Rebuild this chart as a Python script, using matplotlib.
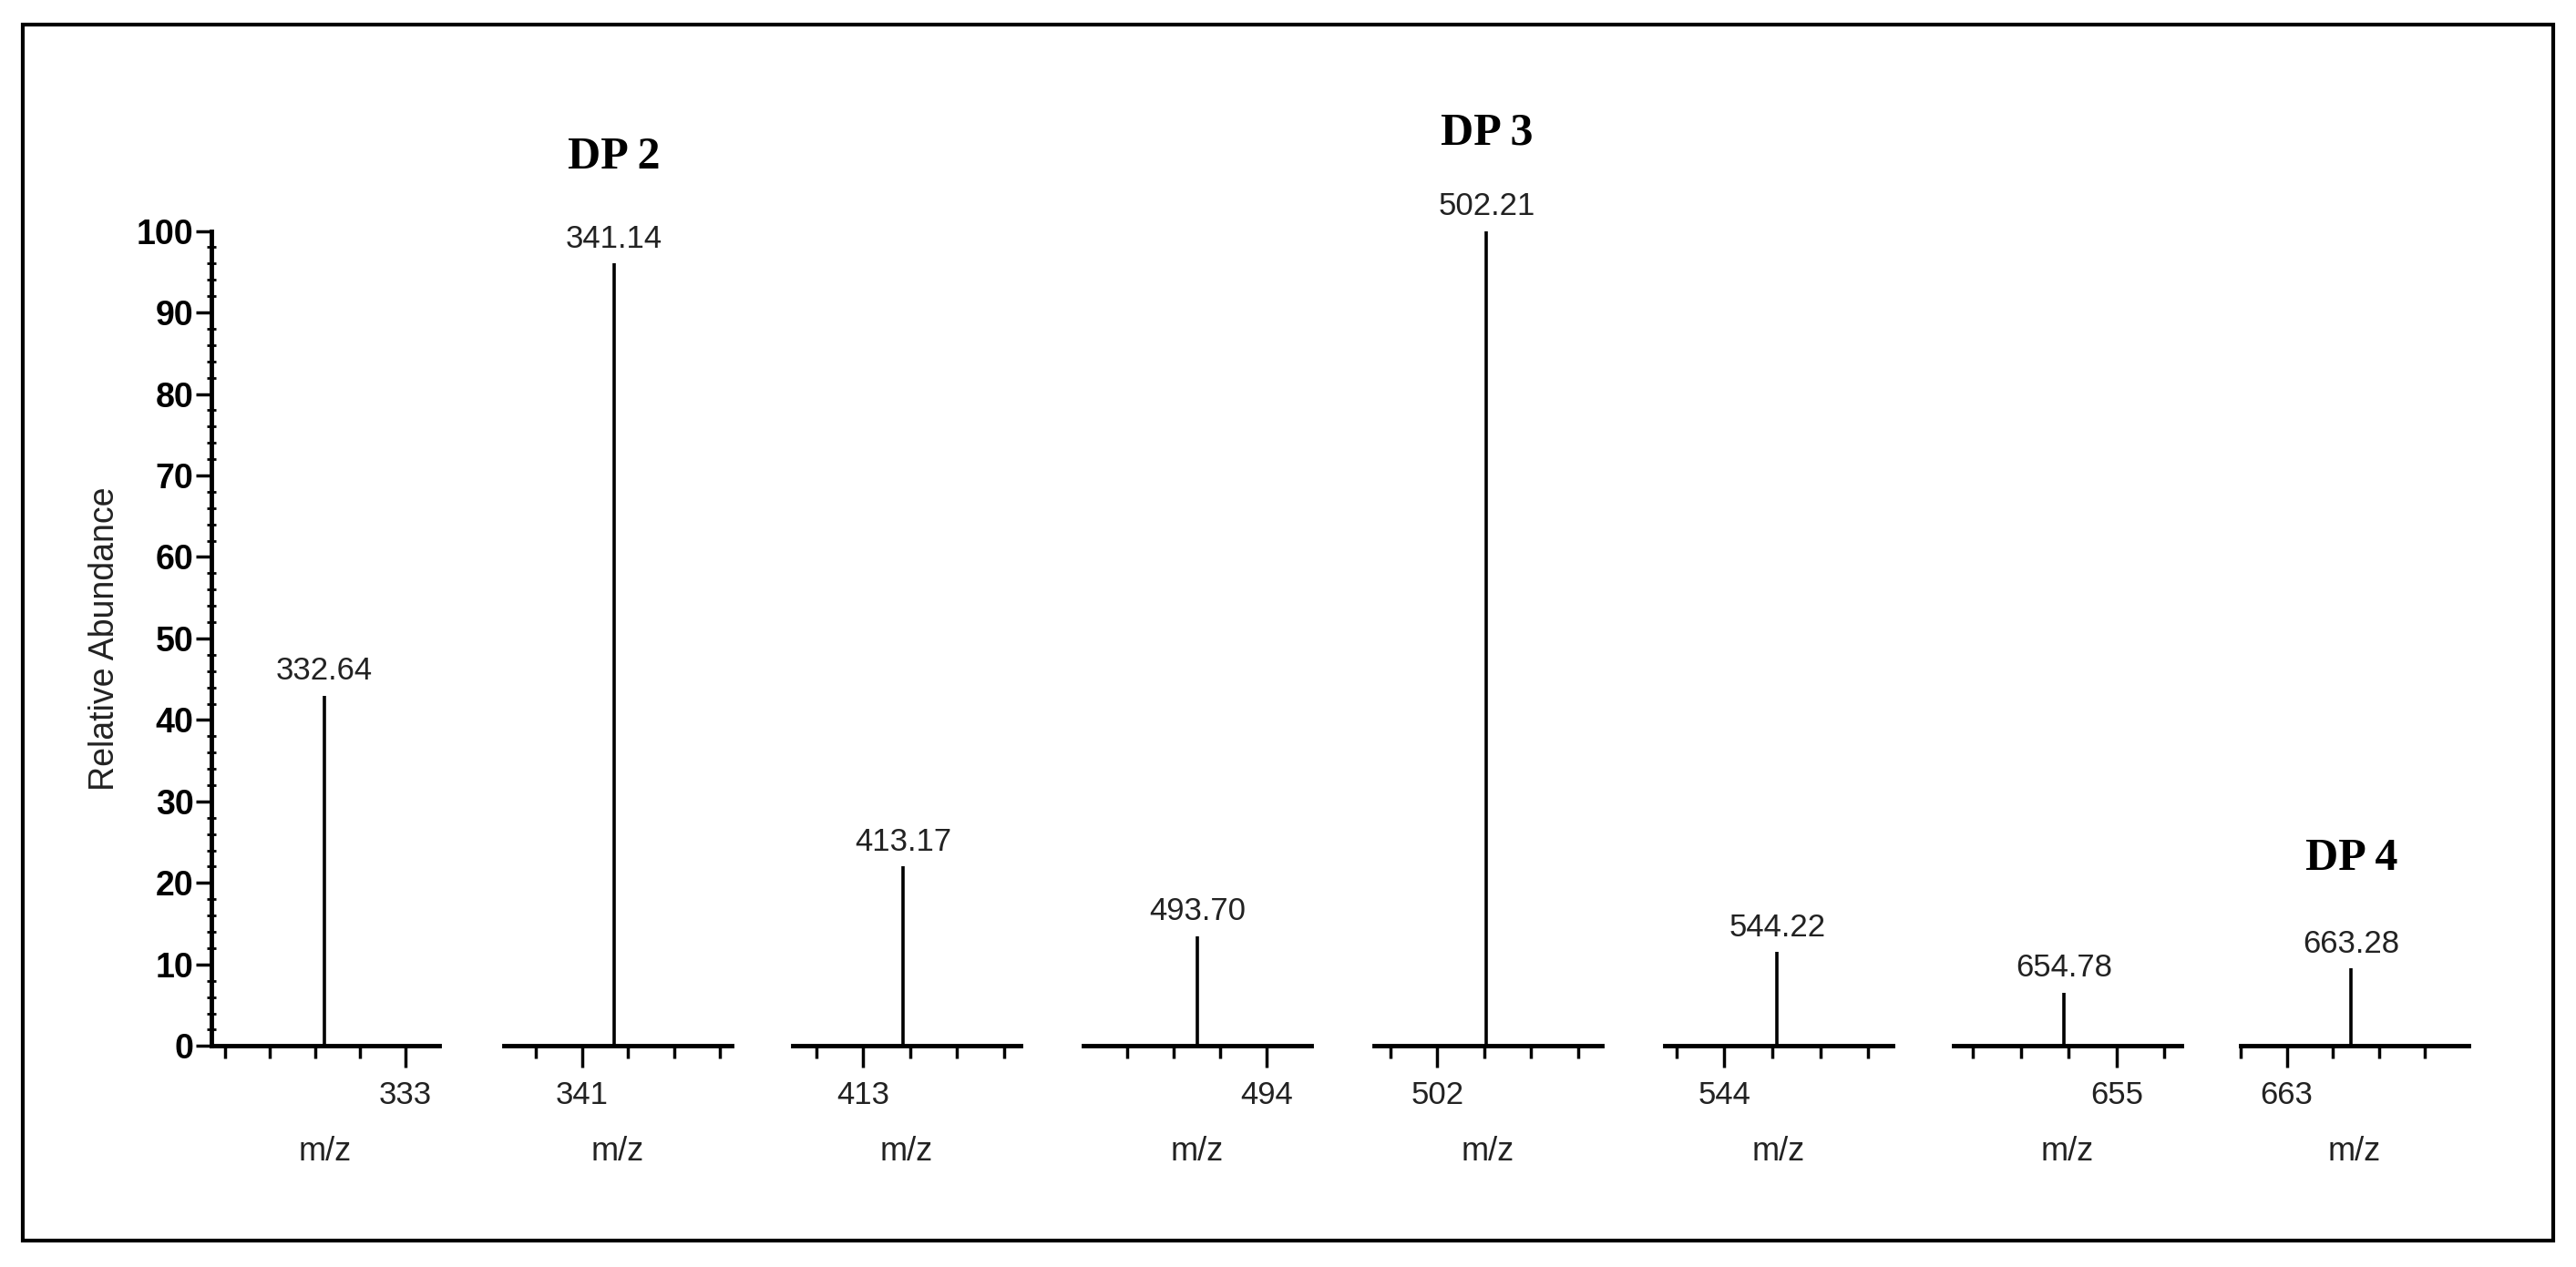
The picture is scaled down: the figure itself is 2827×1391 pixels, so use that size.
import matplotlib.pyplot as plt
from matplotlib.ticker import MultipleLocator, FixedLocator
from matplotlib.patches import Rectangle

# === Dati ===
peaks_mz = [332.64, 341.14, 413.17, 493.70, 502.21, 544.22, 654.78, 663.28]
peaks_ab = [43, 96, 22, 13.5, 100, 11.5, 6.5, 9.5]
major_ticks = [333, 341, 413, 494, 502, 544, 655, 663]
xlims = [(332.14, 333.15), (340.66, 341.65), (412.70, 413.67), (493.21, 494.19),
         (501.73, 502.70), (543.75, 544.70), (654.32, 655.27), (662.80, 663.79)]
dp_labels = {1: ("DP 2", 109), 4: ("DP 3", 112), 7: ("DP 4", 23)}

W, H = 1560.0, 768.0
panel_left = [128, 305, 480, 656, 832, 1008, 1183, 1357]
panel_w = 138
y_top, y_bot = 140, 634

fig = plt.figure(figsize=(28.27, 13.91), dpi=100)
fig.patches.append(Rectangle((14 / W, 1 - 752 / H), 1532 / W, 737 / H, transform=fig.transFigure,
                             fill=False, lw=3, ec="black"))

sans = "Liberation Sans"
for i, (mz, ab) in enumerate(zip(peaks_mz, peaks_ab)):
    ax = fig.add_axes([panel_left[i] / W, 1 - y_bot / H, panel_w / W, (y_bot - y_top) / H])
    ax.set_xlim(*xlims[i])
    ax.set_ylim(0, 100)
    ax.vlines(mz, 0, ab, color="black", lw=2.6)
    ax.text(mz, ab + 1.2, f"{mz:.2f}", ha="center", va="bottom", fontsize=25, family=sans, color="#222222")
    for s in ["top", "right"]:
        ax.spines[s].set_visible(False)
    ax.spines["bottom"].set_linewidth(3.5)
    ax.xaxis.set_major_locator(FixedLocator([major_ticks[i]]))
    ax.xaxis.set_minor_locator(MultipleLocator(0.2))
    ax.xaxis.set_major_formatter(lambda v, p: f"{v:.0f}")
    ax.tick_params(axis="x", which="major", length=17, width=2.5, labelsize=25, pad=10, labelcolor="#222222")
    ax.tick_params(axis="x", which="minor", length=10, width=2.5)
    for lab in ax.get_xticklabels():
        lab.set_family(sans)
    ax.set_xlabel("m/z", fontsize=26, family=sans, labelpad=20, color="#222222")
    if i == 0:
        ax.spines["left"].set_linewidth(3.5)
        ax.yaxis.set_major_locator(MultipleLocator(10))
        ax.yaxis.set_minor_locator(MultipleLocator(2))
        ax.tick_params(axis="y", which="major", length=12, width=2.5, labelsize=27, pad=2)
        ax.tick_params(axis="y", which="minor", length=7, width=2, direction="inout")
        for lab in ax.get_yticklabels():
            lab.set_family(sans)
            lab.set_fontweight("bold")
        ax.set_ylabel("Relative Abundance", fontsize=27, family=sans, labelpad=12, color="#222222")
    else:
        ax.spines["left"].set_visible(False)
        ax.set_yticks([])
    ax.set_facecolor("none")
    if i in dp_labels:
        txt, yy = dp_labels[i]
        ax.text(mz, yy, txt, ha="center", va="center", fontsize=36, fontweight="bold",
                family="Liberation Serif", clip_on=False)

fig.savefig("out.png", dpi=100)
